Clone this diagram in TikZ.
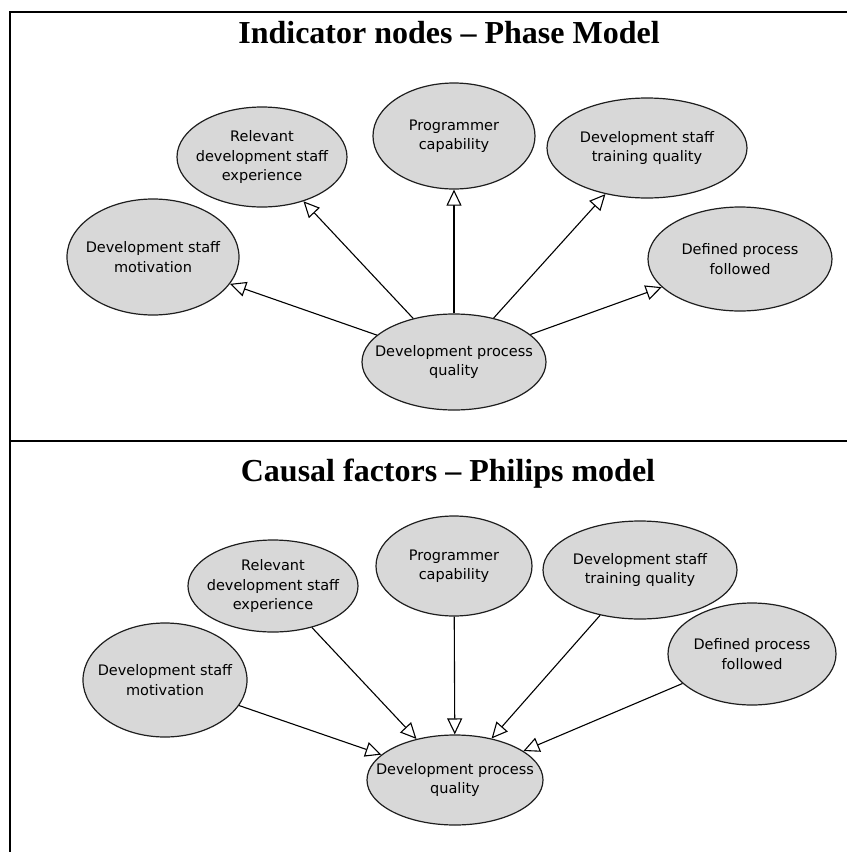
\documentclass[tikz,border=0pt]{standalone}
\usepackage{fontspec}
\setmainfont{Liberation Serif}
\newfontfamily\nodefont{DejaVu Sans}
\usetikzlibrary{shapes.geometric,arrows.meta}
\definecolor{ellfill}{RGB}{216,216,216}
\definecolor{ellline}{RGB}{30,30,30}
\tikzset{
  ell/.style={ellipse, draw=ellline, fill=ellfill, line width=1.2pt, inner sep=0pt},
  txt/.style={font=\nodefont\fontsize{14.5}{19.5}\selectfont, align=center, inner sep=0pt},
  ttl/.style={font=\fontsize{32}{36}\selectfont\bfseries, anchor=base, inner sep=0pt},
  arr/.style={line width=1.1pt, -{Triangle[length=16pt,width=15pt,fill=white,line width=1.1pt]}},
  frame/.style={line width=2.4pt}
}
\begin{document}
\begin{tikzpicture}[x=1pt,y=-1pt]
\useasboundingbox (0,0) rectangle (847,852);
% frame
\draw[frame] (10,852) -- (10,12) -- (847,12);
\draw[frame] (10,441) -- (847,441);
% titles
\node[ttl] (t1) at (449,43) {Indicator nodes – Phase Model};
\node[ttl] (t2) at (448,481) {Causal factors – Philips model};
% top panel
\node[ell, minimum width=172pt, minimum height=116pt] (mot1) at (153,257) {};
\node[txt] at (mot1) {Development staff\\motivation};
\node[ell, minimum width=170pt, minimum height=100pt] (rel1) at (262,157) {};
\node[txt] at (rel1) {Relevant\\development staff\\experience};
\node[ell, minimum width=162pt, minimum height=106pt] (prog1) at (454,136) {};
\node[txt] at (prog1) {Programmer\\capability};
\node[ell, minimum width=200pt, minimum height=100pt] (trn1) at (647,148) {};
\node[txt] at (trn1) {Development staff\\training quality};
\node[ell, minimum width=184pt, minimum height=104pt] (def1) at (740,259) {};
\node[txt] at (def1) {Defined process\\followed};
\node[ell, minimum width=184pt, minimum height=96pt] (cen1) at (454,362) {};
\node[txt] at (cen1) {Development process\\quality};
\foreach \n in {mot1,rel1,prog1,trn1,def1}
  \draw[arr] (cen1) -- (\n);
% bottom panel
\node[ell, minimum width=164pt, minimum height=114pt] (mot2) at (165,680) {};
\node[txt] at (mot2) {Development staff\\motivation};
\node[ell, minimum width=170pt, minimum height=92pt] (rel2) at (273,586) {};
\node[txt] at (rel2) {Relevant\\development staff\\experience};
\node[ell, minimum width=156pt, minimum height=100pt] (prog2) at (454,566) {};
\node[txt] at (prog2) {Programmer\\capability};
\node[ell, minimum width=194pt, minimum height=98pt] (trn2) at (640,570) {};
\node[txt] at (trn2) {Development staff\\training quality};
\node[ell, minimum width=168pt, minimum height=102pt] (def2) at (752,654) {};
\node[txt] at (def2) {Defined process\\followed};
\node[ell, minimum width=176pt, minimum height=90pt] (cen2) at (455,780) {};
\node[txt] at (cen2) {Development process\\quality};
\foreach \n in {mot2,rel2,prog2,trn2,def2}
  \draw[arr] (\n) -- (cen2);
\end{tikzpicture}
\end{document}
